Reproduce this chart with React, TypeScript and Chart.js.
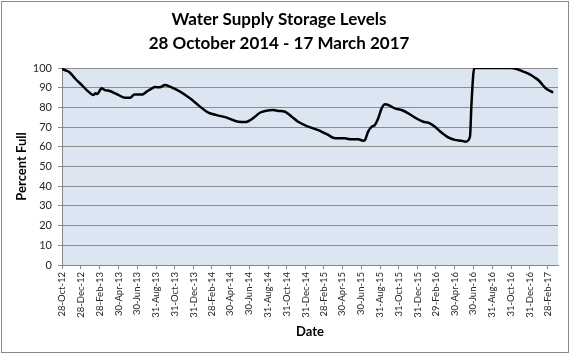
import React, { useEffect, useRef } from "react";
import { Chart, registerables } from "chart.js";

Chart.register(...registerables);

const titleLines = ["Water Supply Storage Levels", "28 October 2014 - 17 March 2017"];
const yTitle = "Percent Full";
const xTitle = "Date";

const dates = [
  "2012-10-28", "2012-11-12", "2012-11-23", "2012-12-09", "2012-12-31", "2013-01-22",
  "2013-02-07", "2013-02-15", "2013-02-21", "2013-03-01", "2013-03-06", "2013-03-17",
  "2013-04-02", "2013-04-24", "2013-05-21", "2013-06-07", "2013-06-21", "2013-07-17",
  "2013-07-31", "2013-08-16", "2013-08-27", "2013-09-12", "2013-09-29", "2013-10-15",
  "2013-11-17", "2013-12-19", "2014-01-21", "2014-02-17", "2014-03-16", "2014-04-18",
  "2014-05-26", "2014-06-20", "2014-07-03", "2014-07-19", "2014-08-04", "2014-08-21",
  "2014-09-17", "2014-10-03", "2014-10-25", "2014-11-16", "2014-12-07", "2015-01-09",
  "2015-02-10", "2015-03-15", "2015-03-31", "2015-04-16", "2015-05-08", "2015-05-25",
  "2015-06-21", "2015-07-07", "2015-07-13", "2015-07-23", "2015-08-04", "2015-08-14",
  "2015-08-25", "2015-09-05", "2015-09-16", "2015-09-27", "2015-10-18", "2015-11-09",
  "2015-12-01", "2015-12-23", "2016-01-19", "2016-02-04", "2016-02-26", "2016-03-13",
  "2016-04-09", "2016-05-01", "2016-05-23", "2016-06-05", "2016-06-19", "2016-06-24",
  "2016-07-03", "2016-10-30", "2016-11-18", "2016-12-10", "2016-12-31", "2017-01-17",
  "2017-01-31", "2017-02-13", "2017-02-24", "2017-03-09", "2017-03-17",
];

const levels = [
  99.5, 98.6, 97.6, 94.8, 91.4, 88.0,
  86.3, 87.2, 86.8, 88.8, 89.7, 88.8,
  88.3, 86.8, 84.9, 84.9, 86.6, 86.6,
  88.0, 89.5, 90.3, 90.2, 91.4, 90.5,
  88.0, 84.6, 80.4, 77.3, 76.1, 74.8,
  72.7, 72.6, 73.5, 75.3, 77.3, 78.2,
  78.7, 78.2, 77.8, 75.3, 72.7, 70.2,
  68.5, 66.0, 64.6, 64.3, 64.3, 63.8,
  63.8, 63.1, 63.5, 67.7, 70.2, 71.1,
  74.5, 79.5, 81.6, 81.2, 79.5, 78.7,
  77.0, 74.8, 72.7, 72.3, 70.2, 67.9,
  64.8, 63.5, 63.1, 62.6, 65.1, 82.0,
  100, 100, 99.5, 98.2, 96.8, 95.1,
  93.4, 91.0, 89.3, 88.3, 87.5,
];

const tickDates = [
  "2012-10-28", "2012-12-28", "2013-02-28", "2013-04-30", "2013-06-30", "2013-08-31",
  "2013-10-31", "2013-12-31", "2014-02-28", "2014-04-30", "2014-06-30", "2014-08-31",
  "2014-10-31", "2014-12-31", "2015-02-28", "2015-04-30", "2015-06-30", "2015-08-31",
  "2015-10-31", "2015-12-31", "2016-02-29", "2016-04-30", "2016-06-30", "2016-08-31",
  "2016-10-31", "2016-12-31", "2017-02-28",
];

const tickLabels = [
  "28-Oct-12", "28-Dec-12", "28-Feb-13", "30-Apr-13", "30-Jun-13", "31-Aug-13",
  "31-Oct-13", "31-Dec-13", "28-Feb-14", "30-Apr-14", "30-Jun-14", "31-Aug-14",
  "31-Oct-14", "31-Dec-14", "28-Feb-15", "30-Apr-15", "30-Jun-15", "31-Aug-15",
  "31-Oct-15", "31-Dec-15", "29-Feb-16", "30-Apr-16", "30-Jun-16", "31-Aug-16",
  "31-Oct-16", "31-Dec-16", "28-Feb-17",
];

const axisStart = "2012-10-28";
const axisEnd = "2017-04-02";

const yMin = 0;
const yMax = 100;
const yStep = 10;

const DAY = 86400000;
const toDay = (s: string) => {
  const [y, m, d] = s.split("-").map(Number);
  return (Date.UTC(y, m - 1, d) - Date.UTC(2012, 9, 28)) / DAY;
};

const plotBg = {
  id: "plotBg",
  beforeDraw(chart: any) {
    const { ctx, chartArea } = chart;
    ctx.save();
    ctx.fillStyle = "#dce6f2";
    ctx.fillRect(chartArea.left, chartArea.top, chartArea.right - chartArea.left, chartArea.bottom - chartArea.top);
    ctx.restore();
  },
  afterDraw(chart: any) {
    const { ctx } = chart;
    ctx.save();
    ctx.strokeStyle = "#8a8a8a";
    ctx.lineWidth = 1;
    ctx.strokeRect(1.5, 1.5, 567, 351);
    ctx.restore();
  },
};

export default function App() {
  const ref = useRef<HTMLCanvasElement | null>(null);

  useEffect(() => {
    if (!ref.current) return;
    const points = dates.map((d, i) => ({ x: toDay(d), y: levels[i] }));
    const tickVals = tickDates.map(toDay);
    const chart = new Chart(ref.current, {
      type: "line",
      data: {
        datasets: [
          {
            data: points,
            borderColor: "#000000",
            borderWidth: 2.5,
            pointRadius: 0,
            cubicInterpolationMode: "monotone",
            fill: false,
          },
        ],
      },
      options: {
        animation: false,
        responsive: true,
        maintainAspectRatio: false,
        layout: { padding: { left: 0, right: 13, top: 0, bottom: 0 } },
        plugins: {
          legend: { display: false },
          tooltip: { enabled: false },
          title: {
            display: true,
            text: titleLines,
            color: "#000000",
            font: { family: "Lato", size: 17, weight: "bold", lineHeight: "24px" },
            padding: { top: 8, bottom: 12 },
          },
        },
        scales: {
          x: {
            type: "linear",
            min: toDay(axisStart),
            max: toDay(axisEnd),
            afterBuildTicks: (axis: any) => {
              axis.ticks = tickVals.map((v) => ({ value: v }));
            },
            afterFit: (scale: any) => {
              scale.height = 90;
            },
            ticks: {
              autoSkip: false,
              maxRotation: 90,
              minRotation: 90,
              padding: 3,
              color: "#262626",
              font: { family: "Lato", size: 9.5 },
              callback: (_v: any, i: number) => tickLabels[i],
            },
            grid: {
              display: true,
              drawOnChartArea: false,
              drawTicks: true,
              tickLength: 4,
              color: "#868686",
            },
            border: { color: "#868686" },
            title: {
              display: true,
              text: xTitle,
              color: "#000000",
              font: { family: "Lato", size: 13, weight: "bold" },
              padding: { top: 0, bottom: 15 },
            },
          },
          y: {
            min: yMin,
            max: yMax,
            afterFit: (scale: any) => {
              scale.width = 62;
            },
            ticks: {
              stepSize: yStep,
              padding: 6,
              color: "#262626",
              font: { family: "Lato", size: 11 },
            },
            grid: {
              color: "#8c8c8c",
              tickLength: 4,
              drawTicks: true,
            },
            border: { color: "#868686" },
            title: {
              display: true,
              text: yTitle,
              color: "#000000",
              font: { family: "Lato", size: 13, weight: "bold" },
              padding: { top: 14, bottom: 0 },
            },
          },
        },
      },
      plugins: [plotBg],
    });
    return () => chart.destroy();
  }, []);

  return (
    <div style={{ position: "absolute", left: 0, top: 0, width: 571, height: 355 }}>
      <canvas ref={ref} />
    </div>
  );
}
